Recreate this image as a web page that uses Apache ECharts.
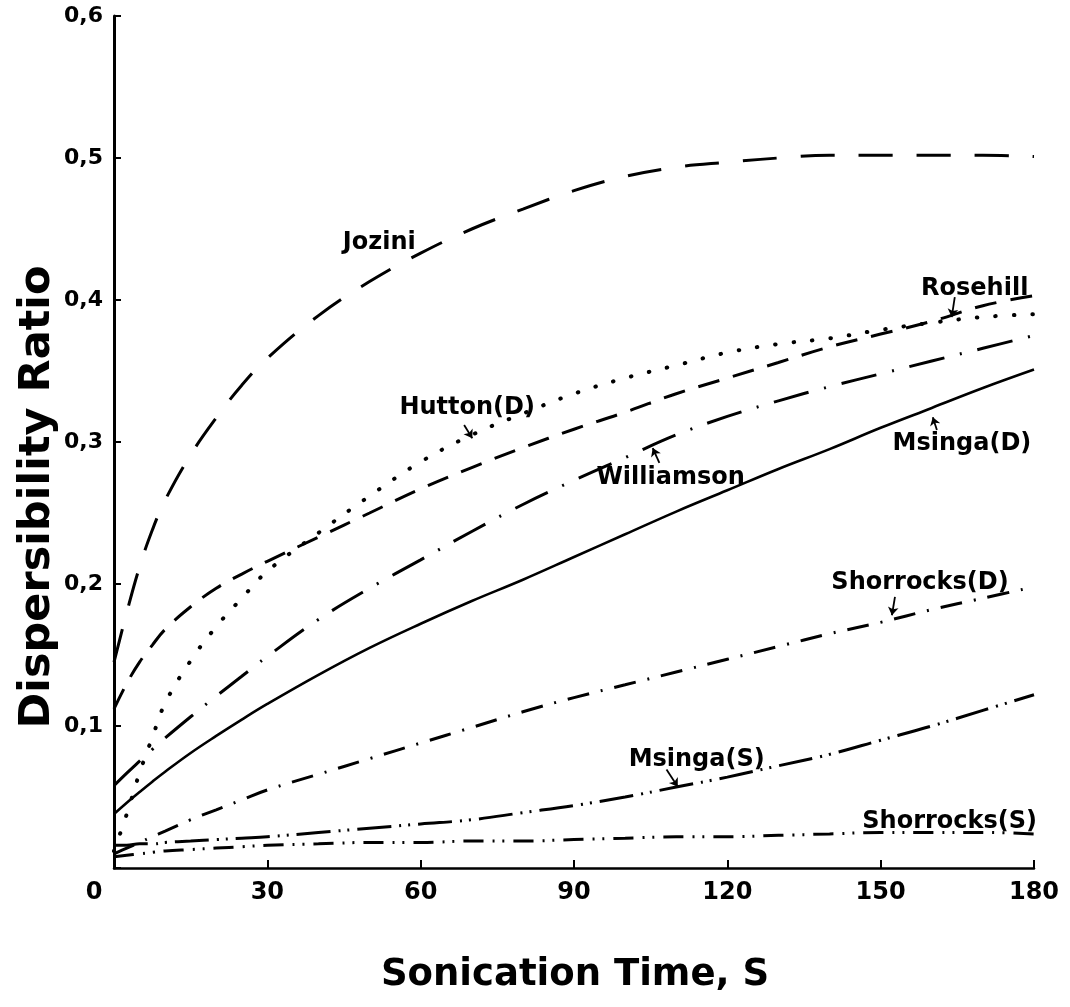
<!DOCTYPE html>
<html>
<head>
<meta charset="utf-8">
<title>Dispersibility Ratio vs Sonication Time</title>
<script src="https://cdn.jsdelivr.net/npm/echarts@6/dist/echarts.min.js"></script>
<style>
  html, body { margin: 0; padding: 0; background: #fff; }
  #chart { width: 1070px; height: 1007px; }
</style>
</head>
<body>
<div id="chart"></div>
<script>
// Sonication time (s) at which each soil curve is sampled
const sonicationTime = [0, 2.5, 5, 7.5, 10, 15, 20, 25, 30, 40, 50, 60, 70, 80, 90, 100, 110, 120, 130, 140, 150, 160, 170, 180];

// Dispersibility ratio per soil
const jozini       = [0.145, 0.180, 0.212, 0.238, 0.259, 0.291, 0.317, 0.340, 0.359, 0.389, 0.413, 0.433, 0.450, 0.464, 0.477, 0.487, 0.4935, 0.497, 0.500, 0.502, 0.502, 0.502, 0.502, 0.501];
const rosehill     = [0.112, 0.130, 0.145, 0.157, 0.168, 0.184, 0.197, 0.207, 0.216, 0.233, 0.250, 0.267, 0.282, 0.296, 0.309, 0.321, 0.334, 0.345, 0.356, 0.367, 0.376, 0.385, 0.396, 0.403];
const huttonD      = [0.012, 0.038, 0.067, 0.092, 0.116, 0.146, 0.170, 0.190, 0.209, 0.236, 0.262, 0.286, 0.305, 0.320, 0.334, 0.345, 0.354, 0.363, 0.369, 0.373, 0.379, 0.384, 0.388, 0.390];
const williamson   = [0.058, 0.0668, 0.0752, 0.0835, 0.0915, 0.1065, 0.121, 0.135, 0.149, 0.175, 0.197, 0.217, 0.237, 0.256, 0.273, 0.289, 0.305, 0.318, 0.329, 0.339, 0.348, 0.357, 0.366, 0.375];
const msingaD      = [0.038, 0.046, 0.0535, 0.0608, 0.0678, 0.081, 0.093, 0.1045, 0.1155, 0.136, 0.155, 0.172, 0.188, 0.203, 0.219, 0.235, 0.251, 0.266, 0.281, 0.295, 0.310, 0.324, 0.338, 0.351];
const shorrocksD   = [0.010, 0.014, 0.018, 0.022, 0.026, 0.034, 0.041, 0.048, 0.055, 0.066, 0.077, 0.088, 0.099, 0.110, 0.120, 0.129, 0.138, 0.147, 0.156, 0.165, 0.173, 0.182, 0.190, 0.198];
const msingaS      = [0.016, 0.016, 0.017, 0.017, 0.018, 0.019, 0.020, 0.021, 0.022, 0.025, 0.028, 0.031, 0.034, 0.039, 0.044, 0.050, 0.057, 0.064, 0.072, 0.080, 0.090, 0.100, 0.111, 0.122];
const shorrocksS   = [0.008, 0.009, 0.010, 0.011, 0.012, 0.013, 0.014, 0.015, 0.016, 0.017, 0.018, 0.018, 0.019, 0.019, 0.020, 0.021, 0.022, 0.022, 0.023, 0.024, 0.025, 0.025, 0.025, 0.024];

// Axis ticks
const timeTicks = [0, 30, 60, 90, 120, 150, 180];
const ratioTicks = [0, 0.1, 0.2, 0.3, 0.4, 0.5, 0.6];

// Curve captions, anchored in data space (time, ratio)
const captionText  = ['Jozini', 'Hutton(D)', 'Rosehill', 'Williamson', 'Msinga(D)', 'Shorrocks(D)', 'Msinga(S)', 'Shorrocks(S)'];
const captionTime  = [51.9, 69.1, 168.4, 108.9, 165.9, 157.7, 114.0, 163.5];
const captionRatio = [0.440, 0.324, 0.408, 0.275, 0.299, 0.2008, 0.0763, 0.0327];

// Leader arrows from captions to curves: [t0, r0, t1, r1]
const leaderArrows = [
  [68.5, 0.312, 70.1, 0.3027],
  [164.5, 0.402, 163.9, 0.388],
  [106.7, 0.2853, 105.4, 0.2957],
  [161.0, 0.3084, 160.2, 0.3175],
  [152.8, 0.191, 152.2, 0.178],
  [108.1, 0.0693, 110.3, 0.0573]
];

const FONT = 'DejaVu Sans';
const pairs = arr => sonicationTime.map((t, i) => [t, arr[i]]);

function curve(name, values, dash, width, cap) {
  return {
    name: name,
    type: 'line',
    data: pairs(values),
    smooth: 0.4,
    symbol: 'none',
    silent: true,
    lineStyle: { color: '#000', width: width, type: dash, cap: cap || 'butt' },
    z: 3
  };
}

const chart = echarts.init(document.getElementById('chart'), null, { renderer: 'canvas' });

chart.setOption({
  animation: false,
  backgroundColor: '#fff',
  grid: { left: 114, right: 36, top: 16, bottom: 139, containLabel: false },
  xAxis: {
    type: 'value',
    min: timeTicks[0],
    max: timeTicks[timeTicks.length - 1],
    interval: timeTicks[1] - timeTicks[0],
    axisLine: { show: true, lineStyle: { color: '#000', width: 2.5 } },
    axisTick: { show: true, inside: true, length: 8, lineStyle: { color: '#000', width: 2 } },
    splitLine: { show: false },
    axisLabel: {
      color: '#000',
      fontFamily: FONT,
      fontWeight: 'bold',
      fontSize: 24,
      margin: 13,
      formatter: v => v === 0 ? '{o|0}' : String(v),
      rich: { o: { fontFamily: FONT, fontWeight: 'bold', fontSize: 24, color: '#000', padding: [0, 40, 0, 0] } }
    }
  },
  yAxis: {
    type: 'value',
    min: ratioTicks[0],
    max: ratioTicks[ratioTicks.length - 1],
    interval: ratioTicks[1] - ratioTicks[0],
    axisLine: { show: true, lineStyle: { color: '#000', width: 3 } },
    axisTick: { show: true, inside: true, length: 7, lineStyle: { color: '#000', width: 2 } },
    splitLine: { show: false },
    axisLabel: {
      color: '#000',
      fontFamily: FONT,
      fontWeight: 'bold',
      fontSize: 22,
      margin: 11,
      formatter: v => v === 0 ? '' : v.toFixed(1).replace('.', ',')
    }
  },
  graphic: [
    {
      type: 'text',
      x: 575, y: 975,
      style: {
        text: 'Sonication Time, S',
        fill: '#000',
        font: 'bold 37px "DejaVu Sans"',
        textAlign: 'center',
        textVerticalAlign: 'middle'
      }
    },
    {
      type: 'text',
      x: 38, y: 497,
      rotation: Math.PI / 2,
      style: {
        text: 'Dispersibility Ratio',
        fill: '#000',
        font: 'bold 43px "DejaVu Sans"',
        textAlign: 'center',
        textVerticalAlign: 'middle'
      }
    }
  ],
  series: [
    curve('Jozini', jozini, [34, 24], 3),
    curve('Rosehill', rosehill, [22, 14], 3),
    curve('Hutton(D)', huttonD, [0.5, 18], 4, 'round'),
    curve('Williamson', williamson, [36, 16, 2, 16], 3),
    curve('Msinga(D)', msingaD, 'solid', 2.6),
    curve('Shorrocks(D)', shorrocksD, [22, 12, 2, 12], 3),
    curve('Msinga(S)', msingaS, [34, 8, 2, 7, 2, 8], 3),
    curve('Shorrocks(S)', shorrocksS, [20, 9, 2, 8, 2, 9], 3),
    {
      name: 'leaders',
      type: 'lines',
      coordinateSystem: 'cartesian2d',
      silent: true,
      symbol: ['none', 'arrow'],
      symbolSize: 8,
      lineStyle: { color: '#000', width: 1.8, opacity: 1 },
      data: leaderArrows.map(a => ({ coords: [[a[0], a[1]], [a[2], a[3]]] })),
      z: 4
    },
    {
      name: 'captions',
      type: 'scatter',
      silent: true,
      symbolSize: 0,
      itemStyle: { color: '#000', opacity: 1 },
      data: captionText.map((s, i) => [captionTime[i], captionRatio[i], s]),
      label: {
        show: true,
        position: [0, 0],
        align: 'center',
        verticalAlign: 'middle',
        formatter: p => p.value[2],
        color: '#000',
        opacity: 1,
        textBorderWidth: 0,
        fontFamily: FONT,
        fontWeight: 'bold',
        fontSize: 24
      },
      z: 5
    }
  ]
});
</script>
</body>
</html>
